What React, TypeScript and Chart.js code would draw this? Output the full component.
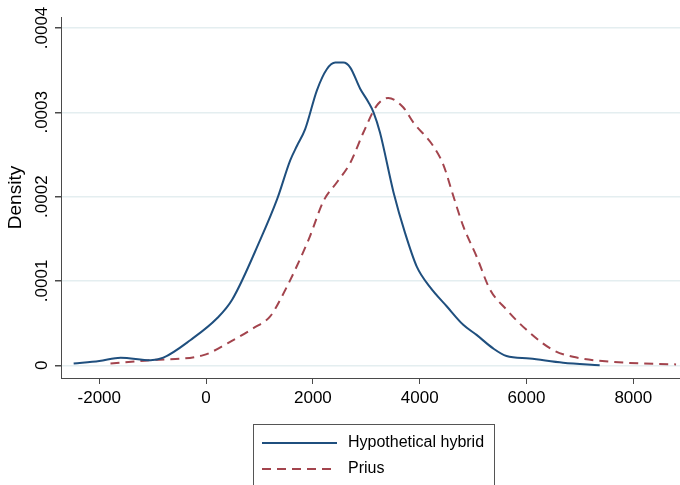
import React, { useEffect, useRef } from 'react';
import { Chart, registerables } from 'chart.js';
Chart.register(...registerables);

const hybridX = [-2480, -2000, -1600, -1040, -800, -290, 210, 490, 1015, 1330, 1575, 1700, 1855, 2075, 2260, 2420, 2570, 2700, 2885, 3040, 3135, 3256, 3510, 3725, 3945, 4190, 4505, 4815, 5065, 5375, 5625, 6060, 6685, 7370];
const hybridY = [2e-6, 5e-6, 9e-6, 6e-6, 9e-6, 3.0e-5, 5.6e-5, 7.8e-5, 1.49e-4, 1.97e-4, 2.43e-4, 2.60e-4, 2.80e-4, 3.26e-4, 3.51e-4, 3.59e-4, 3.59e-4, 3.53e-4, 3.28e-4, 3.12e-4, 3.00e-4, 2.76e-4, 2.05e-4, 1.57e-4, 1.17e-4, 9.3e-5, 7.0e-5, 4.8e-5, 3.6e-5, 2.0e-5, 1.1e-5, 8e-6, 3e-6, 0];
const priusX = [-1790, -1040, -50, 400, 885, 1200, 1390, 1920, 2200, 2450, 2700, 2945, 3195, 3410, 3690, 3880, 4254, 4441, 4628, 4815, 5065, 5315, 5625, 6000, 6500, 6870, 7620, 8800];
const priusY = [2e-6, 6e-6, 1.2e-5, 2.6e-5, 4.4e-5, 5.8e-5, 7.8e-5, 1.49e-4, 1.95e-4, 2.17e-4, 2.40e-4, 2.76e-4, 3.08e-4, 3.17e-4, 3.06e-4, 2.88e-4, 2.60e-4, 2.38e-4, 2.01e-4, 1.65e-4, 1.29e-4, 9.0e-5, 6.6e-5, 4.2e-5, 1.8e-5, 1.0e-5, 4e-6, 1e-6];

const xTicks = [-2000, 0, 2000, 4000, 6000, 8000];
const yTicks = [0, 0.0001, 0.0002, 0.0003, 0.0004];
const yTickLabels = ['0', '.0001', '.0002', '.0003', '.0004'];
const seriesNames = ['Hypothetical hybrid', 'Prius'];
const yTitle = 'Density';

const FONT = '"Liberation Sans", Arial, sans-serif';
const BLUE = '#1f4f7e';
const RED = '#a3444d';
const AXIS = '#4a4a4a';

export default function App() {
  const ref = useRef<HTMLCanvasElement>(null);
  useEffect(() => {
    const canvas = ref.current!;
    const overlay = {
      id: 'stataText',
      afterDraw(chart: any) {
        const { ctx, chartArea, scales } = chart;
        const y = scales.y;
        ctx.save();
        ctx.fillStyle = '#000';
        ctx.textAlign = 'center';
        ctx.textBaseline = 'middle';
        ctx.font = `17px ${FONT}`;
        yTicks.forEach((v, i) => {
          const py = y.getPixelForValue(v);
          ctx.save();
          ctx.translate(chartArea.left - 19, py);
          ctx.rotate(-Math.PI / 2);
          ctx.fillText(yTickLabels[i], 0, 0);
          ctx.restore();
        });
        ctx.font = `19px ${FONT}`;
        ctx.save();
        ctx.translate(16, (chartArea.top + chartArea.bottom) / 2);
        ctx.rotate(-Math.PI / 2);
        ctx.fillText(yTitle, 0, 0);
        ctx.restore();

        // legend box
        const bw = 241;
        const bx = Math.round((chartArea.left + chartArea.right) / 2 - bw / 2 + 3);
        const by = 424;
        ctx.strokeStyle = '#555';
        ctx.lineWidth = 1;
        ctx.strokeRect(bx + 0.5, by + 0.5, bw, 80);
        const rows = [443, 469];
        const colors = [BLUE, RED];
        const dashes = [[], [9, 6]];
        ctx.font = `16px ${FONT}`;
        ctx.textAlign = 'left';
        rows.forEach((ry, i) => {
          ctx.beginPath();
          ctx.strokeStyle = colors[i];
          ctx.lineWidth = 2;
          ctx.setLineDash(dashes[i]);
          ctx.moveTo(bx + 9, ry);
          ctx.lineTo(bx + 84, ry);
          ctx.stroke();
          ctx.setLineDash([]);
          ctx.fillStyle = '#000';
          ctx.fillText(seriesNames[i], bx + 95, ry);
        });
        ctx.restore();
      },
    };

    const chart = new Chart(canvas, {
      type: 'line',
      data: {
        datasets: [
          {
            label: seriesNames[0],
            data: hybridX.map((x, i) => ({ x, y: hybridY[i] })),
            borderColor: BLUE,
            borderWidth: 2,
            pointRadius: 0,
            fill: false,
            cubicInterpolationMode: 'monotone',
          },
          {
            label: seriesNames[1],
            data: priusX.map((x, i) => ({ x, y: priusY[i] })),
            borderColor: RED,
            borderWidth: 2,
            borderDash: [9, 6],
            pointRadius: 0,
            fill: false,
            cubicInterpolationMode: 'monotone',
          },
        ],
      },
      options: {
        animation: false,
        responsive: false,
        layout: { padding: { top: 17, right: 0, bottom: 77, left: 0 } },
        plugins: { legend: { display: false }, tooltip: { enabled: false } },
        scales: {
          x: {
            type: 'linear',
            min: -2717,
            max: 8874,
            afterBuildTicks: (s: any) => { s.ticks = xTicks.map((v) => ({ value: v })); },
            afterFit: (s: any) => { s.height = 30; },
            ticks: {
              font: { size: 17, family: FONT },
              color: '#000',
              padding: 4,
              maxRotation: 0,
              autoSkip: false,
              callback: (v: any) => String(v),
            },
            grid: { drawOnChartArea: false, drawTicks: true, tickLength: 6, tickColor: AXIS },
            border: { color: AXIS, width: 1 },
          },
          y: {
            type: 'linear',
            min: -0.0000151,
            max: 0.000413,
            afterBuildTicks: (s: any) => { s.ticks = yTicks.map((v) => ({ value: v })); },
            afterFit: (s: any) => { s.width = 61; },
            ticks: { display: false },
            grid: { color: '#e4eef0', lineWidth: 1.5, drawTicks: true, tickLength: 6, tickColor: AXIS },
            border: { color: AXIS, width: 1 },
          },
        },
      },
      plugins: [overlay],
    } as any);
    return () => chart.destroy();
  }, []);
  return (
    <div style={{ position: 'fixed', left: 0, top: 0, width: 680, height: 485, background: '#fff' }}>
      <canvas ref={ref} width={680} height={485} />
    </div>
  );
}
